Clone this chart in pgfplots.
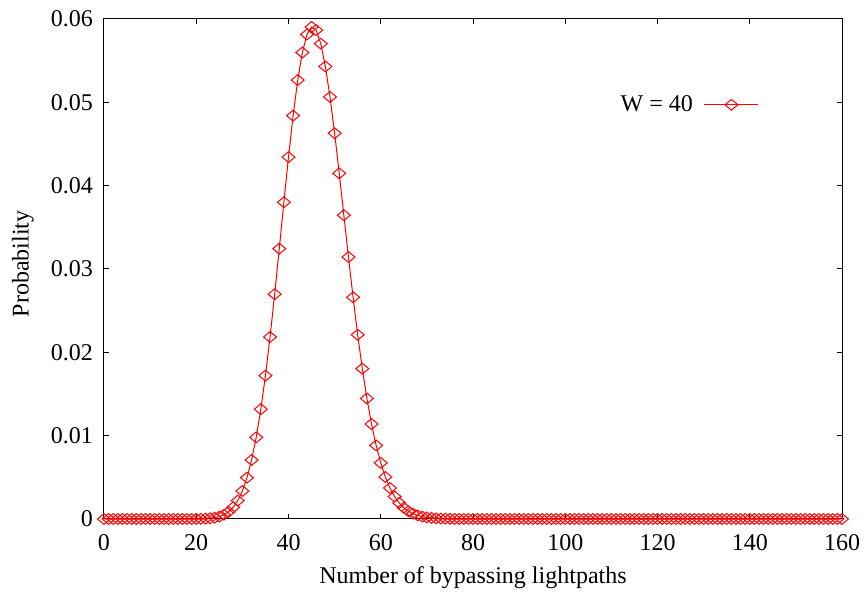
\documentclass[border=0pt]{standalone}
\usepackage{fontspec}
\setmainfont{Liberation Serif}
\usepackage{pgfplots}
\pgfplotsset{compat=1.18}

\begin{document}
\begin{tikzpicture}
\begin{axis}[
  name=ax,
  scale only axis,
  width=369pt, height=250pt,
  font=\fontsize{12}{14.4}\selectfont,
  /pgf/number format/assume math mode=true,
  xmin=0, xmax=160, ymin=0, ymax=0.06,
  xtick={0,20,...,160},
  ytick={0,0.01,0.02,0.03,0.04,0.05,0.06},
  yticklabels={0,0.01,0.02,0.03,0.04,0.05,0.06},
  scaled y ticks=false,
  tick align=inside,
  major tick length=2.5pt,
  tick style={black, line width=0.5pt},
  axis line style={line width=0.5pt},
  xticklabel style={yshift=-4pt},
  yticklabel style={xshift=-2pt},
  xlabel={Number of bypassing lightpaths},
  ylabel={Probability},
  xlabel style={at={(axis description cs:0.5,-0.118)}, anchor=center},
  ylabel style={at={(axis description cs:-0.11,0.51)}, anchor=center},
  clip=false,
  legend plot pos=right,
  legend style={draw=none, fill=none, inner sep=0pt, outer sep=0pt,
    column sep=3.5pt,
    at={(axis cs:142.0,0.0497)}, anchor=east,
    font=\fontsize{12}{14.4}\selectfont},
  legend image code/.code={
    \draw[mark repeat=2, mark phase=2, #1]
      plot coordinates {(0cm,0cm) (0.475cm,0cm) (0.95cm,0cm)};
  },
]
\addplot[red, line width=0.5pt, mark=diamond, mark size=2.7pt,
         mark options={solid, xscale=1.6, line width=0.5pt}]
  coordinates {
    (0,0) (1,0) (2,0) (3,0) (4,0) (5,0) (6,0) (7,0) (8,0) (9,0)
    (10,0) (11,0) (12,0) (13,0) (14,0) (15,0) (16,0) (17,0) (18,0) (19,0)
    (20,0.0000092) (21,0.0000201) (22,0.0000417) (23,0.0000828) (24,0.000158)
    (25,0.000288) (26,0.000507) (27,0.000858) (28,0.001400) (29,0.002207)
    (30,0.003362) (31,0.004956) (32,0.007077) (33,0.009801) (34,0.013174)
    (35,0.017202) (36,0.021837) (37,0.026972) (38,0.032437) (39,0.038010)
    (40,0.043426) (41,0.048404) (42,0.052668) (43,0.055975) (44,0.058138)
    (45,0.059042) (46,0.058657) (47,0.057035) (48,0.054302) (49,0.050645)
    (50,0.046290) (51,0.041480) (52,0.036454) (53,0.031433) (54,0.026602)
    (55,0.022104) (56,0.018038) (57,0.014462) (58,0.011395) (59,0.008826)
    (60,0.006723) (61,0.005037) (62,0.003713) (63,0.002693) (64,0.001923)
    (65,0.001352) (66,0.000936) (67,0.000638) (68,0.000429) (69,0.000284)
    (70,0.000186) (71,0.000119) (72,0.0000757) (73,0.0000474) (74,0.0000293)
    (75,0.0000178) (76,0) (77,0) (78,0) (79,0)
    (80,0) (81,0) (82,0) (83,0) (84,0) (85,0) (86,0) (87,0) (88,0) (89,0)
    (90,0) (91,0) (92,0) (93,0) (94,0) (95,0) (96,0) (97,0) (98,0) (99,0)
    (100,0) (101,0) (102,0) (103,0) (104,0) (105,0) (106,0) (107,0) (108,0) (109,0)
    (110,0) (111,0) (112,0) (113,0) (114,0) (115,0) (116,0) (117,0) (118,0) (119,0)
    (120,0) (121,0) (122,0) (123,0) (124,0) (125,0) (126,0) (127,0) (128,0) (129,0)
    (130,0) (131,0) (132,0) (133,0) (134,0) (135,0) (136,0) (137,0) (138,0) (139,0)
    (140,0) (141,0) (142,0) (143,0) (144,0) (145,0) (146,0) (147,0) (148,0) (149,0)
    (150,0) (151,0) (152,0) (153,0) (154,0) (155,0) (156,0) (157,0) (158,0) (159,0)
    (160,0)
  };
\addlegendentry{W = 40}
\end{axis}
\pgfresetboundingbox
\path ([xshift=-52pt,yshift=-40pt]ax.south west) rectangle ([xshift=12.5pt,yshift=9.5pt]ax.north east);
\end{tikzpicture}
\end{document}
